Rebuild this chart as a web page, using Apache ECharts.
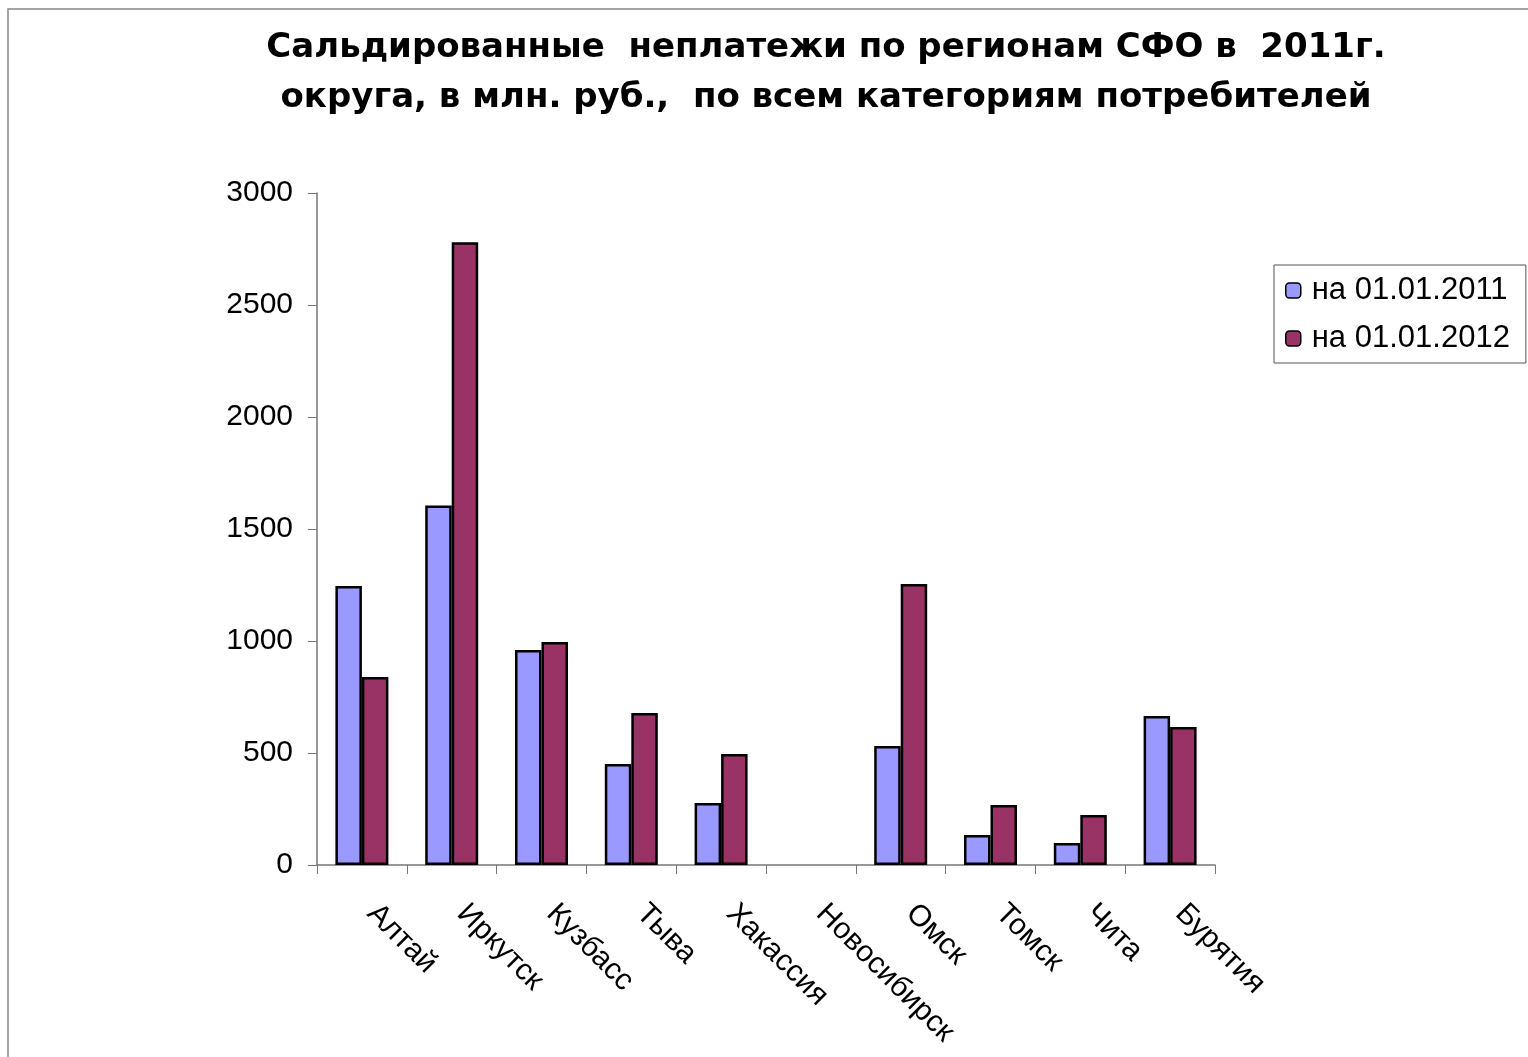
<!DOCTYPE html>
<html><head><meta charset="utf-8">
<script src="https://cdn.jsdelivr.net/npm/echarts@6/dist/echarts.min.js"></script>
<style>html,body{margin:0;padding:0;background:#fff}#c{width:1528px;height:1057px}</style>
</head><body><div id="c"></div>
<script>
var categories = ['Алтай','Иркутск','Кузбасс','Тыва','Хакассия','Новосибирск','Омск','Томск','Чита','Бурятия'];
var series2011 = [1245, 1605, 960, 451, 277, null, 531, 134, 98, 665];
var series2012 = [839, 2780, 995, 679, 495, null, 1254, 268, 223, 616];
var seriesNames = ['на 01.01.2011','на 01.01.2012'];
var titleLines = ['Сальдированные  неплатежи по регионам СФО в  2011г.','округа, в млн. руб.,  по всем категориям потребителей'];

var chart = echarts.init(document.getElementById('c'));
chart.setOption({
  animation:false,
  backgroundColor:'#fff',
  graphic:[{type:'rect',shape:{x:8,y:9,width:1540,height:1060},style:{fill:'none',stroke:'#888',lineWidth:1.5},z:-1}],
  title:{text:titleLines.join('\n'),left:821,textAlign:'center',top:18,
    textStyle:{fontFamily:'DejaVu Sans',fontWeight:'bold',fontSize:34,lineHeight:50,color:'#000'}},
  legend:{orient:'vertical',left:1274,top:265,width:250,itemWidth:15,itemHeight:15,itemGap:17,
    padding:[10,16,9,11],borderColor:'#555',borderWidth:1,
    textStyle:{fontFamily:'Liberation Sans, Arial',fontSize:31,color:'#000',padding:[0,0,0,6]},
    data:seriesNames.map(function(n){return {name:n,itemStyle:{borderColor:'#000',borderWidth:1.5}};})},
  grid:{left:317,right:313,top:193,bottom:192,containLabel:false},
  xAxis:{type:'category',data:categories,
    axisLine:{lineStyle:{color:'#777',width:1.5}},
    axisTick:{show:true,length:9,lineStyle:{color:'#777'}},
    axisLabel:{rotate:-45,margin:34,padding:[0,0,0,14],fontFamily:'Liberation Sans, Arial',fontSize:30,color:'#000',interval:0}},
  yAxis:{type:'value',min:0,max:3000,interval:500,
    axisLine:{show:true,lineStyle:{color:'#777',width:1.5}},
    axisTick:{show:true,length:9,lineStyle:{color:'#777'}},
    splitLine:{show:false},
    axisLabel:{margin:24,fontFamily:'Liberation Sans, Arial',fontSize:30,color:'#000',formatter:function(v){return String(v);}}},
  series:[
    {name:seriesNames[0],type:'bar',data:series2011,barGap:'0%',barCategoryGap:'41%',
     itemStyle:{color:'#9999FF',borderColor:'#000',borderWidth:2.5}},
    {name:seriesNames[1],type:'bar',data:series2012,barGap:'0%',barCategoryGap:'41%',
     itemStyle:{color:'#993366',borderColor:'#000',borderWidth:2.5}}
  ]
});
</script></body></html>
